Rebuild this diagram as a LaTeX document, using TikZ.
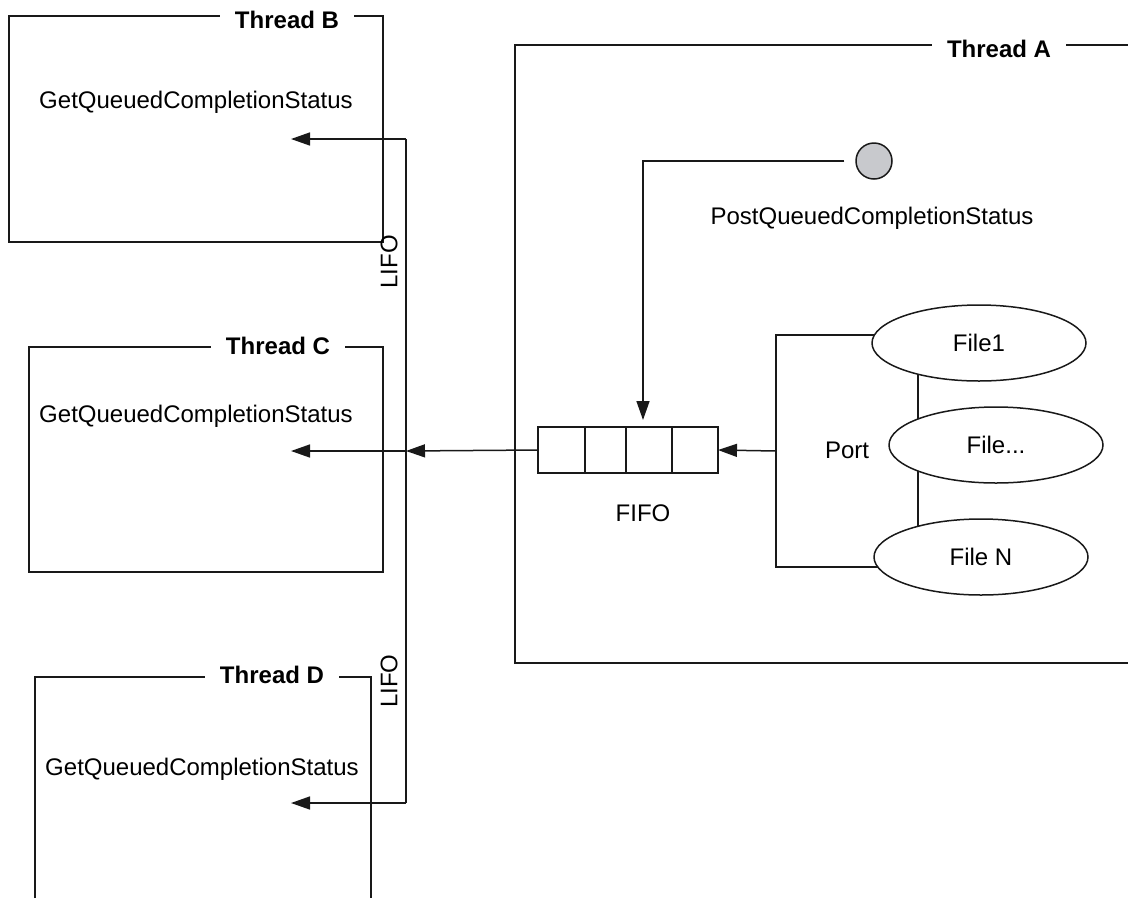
\documentclass[tikz,border=0pt]{standalone}
\usepackage{fontspec}
\setmainfont{Liberation Sans}
\usetikzlibrary{arrows.meta,shapes.geometric}
\definecolor{postgray}{RGB}{200,201,205}
\begin{document}
\begin{tikzpicture}[x=1pt,y=-1pt,
  line width=1.5pt,
  every node/.style={font=\fontsize{24}{28}\selectfont},
  frame/.style={draw=black!90},
  title/.style={fill=white,inner xsep=15pt,inner ysep=3pt,font=\fontsize{24}{28}\selectfont\bfseries},
  arr/.style={draw=black!90,-{Triangle[length=19pt,width=13pt]}},
  cell/.style={draw=black!90,anchor=west,minimum height=46pt,inner sep=0pt,outer sep=0pt},
  file/.style={ellipse,draw=black!90,fill=white,minimum width=214pt,minimum height=76pt,inner sep=0pt},
  lbl/.style={inner sep=2pt}]
\useasboundingbox (0,0) rectangle (1128,898);

% thread frames
\draw[frame] (9,16) rectangle (383,242);
\draw[frame] (29,347) rectangle (383,572);
\draw[frame] (35,898) -- (35,677) -- (371,677) -- (371,898);
\draw[frame] (1128,45) -- (515,45) -- (515,663) -- (1128,663);

\node[title] (thB) at (287,20) {Thread B};
\node[title] (thC) at (278,346) {Thread C};
\node[title] (thD) at (272,675) {Thread D};
\node[title] (thA) at (999,49) {Thread A};

% waiting calls
\node[lbl] (gB) at (196,102) {GetQueuedCompletionStatus};
\node[lbl] (gC) at (196,416) {GetQueuedCompletionStatus};
\node[lbl] (gD) at (202,769) {GetQueuedCompletionStatus};

% arrival points inside the waiting threads
\coordinate (tB) at (291,139);
\coordinate (tC) at (291,451);
\coordinate (tD) at (291,803);
% dispatch line junctions
\coordinate (jB) at (406,139);
\coordinate (jC) at (406,451);
\coordinate (jD) at (406,803);

% LIFO labels
\node[lbl,rotate=90] (lifo1) at (389,262) {LIFO};
\node[lbl,rotate=90] (lifo2) at (389,681) {LIFO};

% the completion queue
\node[cell,minimum width=47pt] (c1) at (538,450) {};
\node[cell,minimum width=41pt] (c2) at (c1.east) {};
\node[cell,minimum width=46pt] (c3) at (c2.east) {};
\node[cell,minimum width=46pt] (c4) at (c3.east) {};
\node[lbl] (fifo) at (643,513) {FIFO};

% posting a status
\node[circle,draw=black!90,fill=postgray,minimum size=36pt,inner sep=0pt] (post) at (874,161) {};
\node[lbl] (postlbl) at (872,218) {PostQueuedCompletionStatus};
\coordinate (drop) at (643,427);
\draw[arr,shorten <=11pt,shorten >=7pt] (post.west) -| (drop);

% port with its files
\coordinate (port) at (776,451);
\draw[frame] (918,370) -- (918,530);
\draw[frame] (900,335) -- (776,335) -- (776,567) -- (900,567);
\node[file] (f1) at (979,343) {File1};
\node[file] (f2) at (996,445) {File...};
\node[file] (fn) at (981,557) {File N};
\node[lbl] (portlbl) at (847,450) {Port};
\draw[arr] (port) -- (c4.east);

% dispatch to the waiting threads
\draw[arr] (c1.west) -- (jC);
\draw[frame] (jB) -- (jD);
\draw[arr] (jB) -- (tB);
\draw[arr] (jC) -- (tC);
\draw[arr] (jD) -- (tD);
\end{tikzpicture}
\end{document}
